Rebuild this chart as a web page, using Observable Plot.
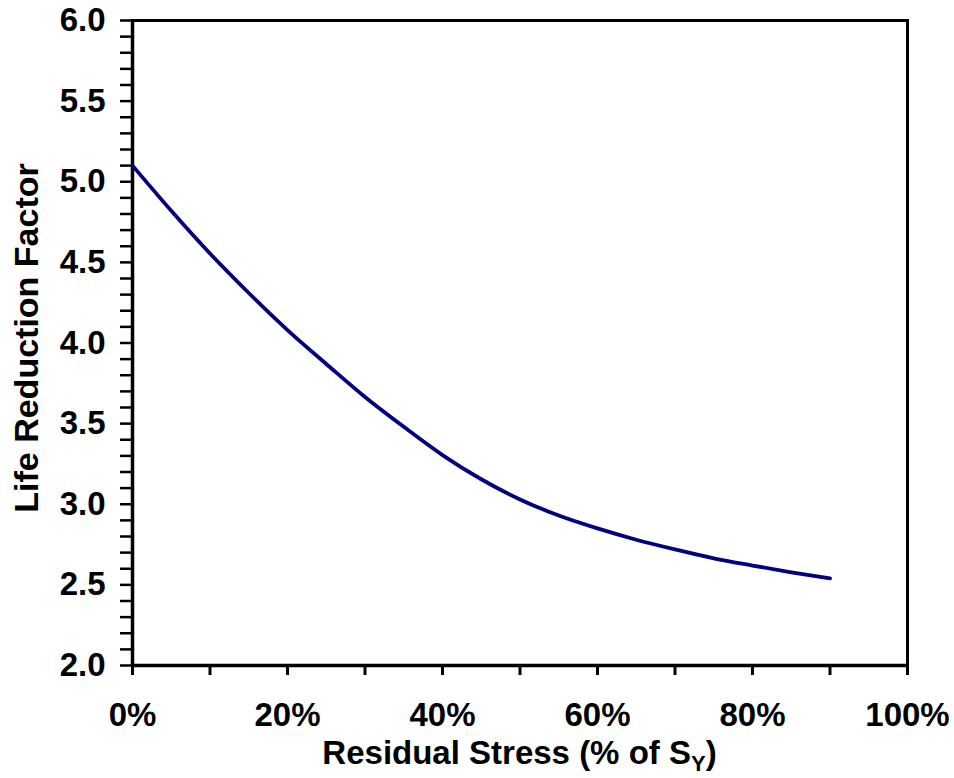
<!DOCTYPE html>
<html><head><meta charset="utf-8">
<script src="https://cdn.jsdelivr.net/npm/d3@7"></script>
<script src="https://cdn.jsdelivr.net/npm/@observablehq/plot@0.6"></script>
<style>body{margin:0;background:#fff;}</style>
</head><body><div id="chart"></div>
<script>
const residualStressPct = [0,5,10,15,20,25,30,35,40,45,50,55,60,65,70,75,80,85,90];
const lifeReductionFactor = [5.10,4.82,4.555,4.31,4.08,3.87,3.665,3.48,3.305,3.155,3.03,2.93,2.85,2.78,2.72,2.665,2.62,2.578,2.54];
const xTickValues = [0,10,20,30,40,50,60,70,80,90,100];
const xLabelValues = [0,20,40,60,80,100];
const yTickValues = d3.range(20, 61).map(d => d / 10);
const yLabelValues = [2,2.5,3,3.5,4,4.5,5,5.5,6];
const xTitleMain = "Residual Stress (% of S";
const xTitleSub = "Y";
const xTitleEnd = ")";
const yTitle = "Life Reduction Factor";

const data = residualStressPct.map((x, i) => ({x, y: lifeReductionFactor[i]}));
const font = "'Liberation Sans', Arial, sans-serif";
const fs = 33;

const chart = Plot.plot({
  width: 954, height: 778,
  marginLeft: 132, marginRight: 47, marginTop: 20, marginBottom: 113,
  style: {fontFamily: font, background: "#fff", color: "#000"},
  x: {domain: [0, 100]},
  y: {domain: [2, 6]},
  marks: [
    Plot.frame({stroke: "#000", strokeWidth: 3}),
    Plot.axisX(xTickValues, {tickSize: 10, strokeWidth: 3, tickFormat: () => "", label: null}),
    Plot.axisX(xLabelValues, {tickSize: 0, tickPadding: 37, tickFormat: d => d + "%", fontSize: fs, fontWeight: "bold", label: null}),
    Plot.axisY(yTickValues, {tickSize: 12, strokeWidth: 2.5, tickFormat: () => "", label: null}),
    Plot.axisY(yLabelValues, {tickSize: 0, tickPadding: 27, tickFormat: d3.format(".1f"), fontSize: fs, fontWeight: "bold", label: null}),
    Plot.ruleX([0], {stroke: "#000", strokeWidth: 3.5}),
    Plot.ruleY([2], {stroke: "#000", strokeWidth: 3.5}),
    Plot.line(data, {x: "x", y: "y", stroke: "#000080", strokeWidth: 3.8, curve: "monotone-x", strokeLinecap: "round"})
  ]
});

const svg = d3.select(chart);
const xt = svg.append("text")
  .attr("x", 519.5).attr("y", 764)
  .attr("text-anchor", "middle")
  .style("font-family", font).style("font-weight", "bold").style("font-size", fs + "px")
  .attr("fill", "#000");
xt.append("tspan").text(xTitleMain);
xt.append("tspan").attr("dy", 7).style("font-size", "22px").text(xTitleSub);
xt.append("tspan").attr("dy", -7).text(xTitleEnd);

svg.append("text")
  .attr("transform", "translate(38,338) rotate(-90)")
  .attr("text-anchor", "middle")
  .style("font-family", font).style("font-weight", "bold").style("font-size", "34px")
  .attr("fill", "#000")
  .text(yTitle);

document.getElementById("chart").appendChild(chart);
</script>
</body></html>
